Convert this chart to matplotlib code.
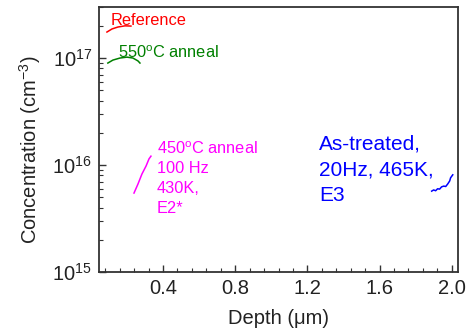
import matplotlib
matplotlib.use("Agg")
import matplotlib.pyplot as plt
from matplotlib.ticker import MultipleLocator, FixedLocator, LogLocator, NullFormatter

plt.rcParams['font.family'] = ['Liberation Sans', 'DejaVu Sans']
plt.rcParams['mathtext.fontset'] = 'custom'
plt.rcParams['mathtext.rm'] = 'Liberation Sans'
plt.rcParams['mathtext.it'] = 'Liberation Sans'
plt.rcParams['mathtext.bf'] = 'Liberation Sans'
plt.rcParams['mathtext.default'] = 'regular'

# Data (depth in um, concentration in cm^-3)
ref_x = [0.089, 0.117, 0.150, 0.189, 0.222]
ref_y = [1.75e17, 1.87e17, 1.95e17, 2.0e17, 1.99e17]

a550_x = [0.094, 0.122, 0.161, 0.200, 0.233, 0.261, 0.272]
a550_y = [8.98e16, 9.57e16, 1.0e17, 1.02e17, 1.0e17, 9.4e16, 8.98e16]

a450_x = [0.239, 0.261, 0.283, 0.306, 0.322, 0.333]
a450_y = [5.47e15, 6.64e15, 8.24e15, 9.8e15, 1.14e16, 1.21e16]

as_x = [1.889, 1.900, 1.911, 1.922, 1.933, 1.944, 1.956, 1.967, 1.978, 1.989, 1.994, 2.006]
as_y = [5.7e15, 5.85e15, 5.75e15, 6.0e15, 5.95e15, 6.25e15, 6.35e15, 6.3e15, 6.65e15, 7.1e15, 7.6e15, 8.1e15]

x_ticks = [0.4, 0.8, 1.2, 1.6, 2.0]
x_ticklabels = ['0.4', '0.8', '1.2', '1.6', '2.0']

fig = plt.figure(figsize=(4.7, 3.31), dpi=100)
ax = fig.add_axes([99/470, (331-272)/331, 359/470, 265/331])

green = '#008000'
ax.plot(ref_x, ref_y, color='red', lw=1.1)
ax.plot(a550_x, a550_y, color=green, lw=1.1)
ax.plot(a450_x, a450_y, color='magenta', lw=1.1)
ax.plot(as_x, as_y, color='blue', lw=1.1)

ax.set_yscale('log')
ax.set_xlim(0.045, 2.035)
ax.set_ylim(1e15, 3e17)

ax.xaxis.set_major_locator(FixedLocator(x_ticks))
ax.set_xticklabels(x_ticklabels)
ax.xaxis.set_minor_locator(MultipleLocator(0.08))
ax.yaxis.set_major_locator(LogLocator(base=10, numticks=10))
ax.yaxis.set_minor_locator(LogLocator(base=10, subs=range(2, 10), numticks=10))
ax.yaxis.set_minor_formatter(NullFormatter())

spine_c = '#333333'
for s in ax.spines.values():
    s.set_color(spine_c)
    s.set_linewidth(1.3)
ax.tick_params(which='both', direction='in', colors=spine_c, labelcolor='#222222',
               labelsize=14.5, top=False, right=False)
ax.tick_params(which='major', length=5, width=1.0, pad=5)
ax.tick_params(which='minor', length=3, width=0.8)

ax.set_xlabel('Depth (\u03bcm)', fontsize=14.5, color='#222222', labelpad=8)
ax.set_ylabel('Concentration (cm$^{-3}$)', fontsize=14.5, color='#222222')
ax.yaxis.set_label_coords(-0.157, 0.46)

ax.text(0.033, 0.978, 'Reference', transform=ax.transAxes, color='red',
        fontsize=11.8, va='top', ha='left')
ax.text(0.053, 0.860, '550$^{o}$C anneal', transform=ax.transAxes, color=green,
        fontsize=11.8, va='top', ha='left')
ax.text(0.1616, 0.498, '450$^{o}$C anneal\n100 Hz\n430K,\nE2*', transform=ax.transAxes,
        color='magenta', fontsize=11.8, va='top', ha='left', linespacing=1.4)
ax.text(0.613, 0.517, 'As-treated,\n20Hz, 465K,\nE3', transform=ax.transAxes,
        color='blue', fontsize=15, va='top', ha='left', linespacing=1.42)

fig.savefig('out.png', dpi=100)
